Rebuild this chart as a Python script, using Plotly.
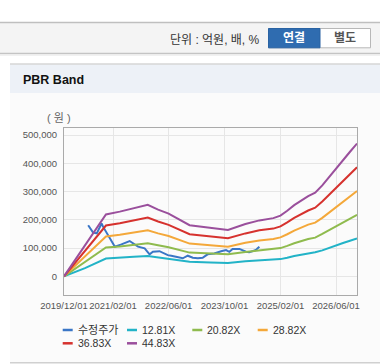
import plotly.graph_objects as go

# ---------------- data ----------------
band_dates = ["2019-12-01", "2020-06-01", "2020-12-01", "2021-04-01", "2021-08-01", "2021-12-01",
              "2022-03-01", "2022-06-01", "2022-12-01", "2023-06-01", "2023-11-01", "2024-04-01",
              "2024-08-01", "2024-12-01", "2025-02-01", "2025-04-01", "2025-06-01", "2025-10-01",
              "2025-12-01", "2026-02-01", "2026-04-01", "2026-06-01", "2026-08-01", "2026-10-01",
              "2026-12-01"]
band_1281 = [0, 29000, 63000, 65000, 69000, 72000, 67000, 63000, 52000, 49000, 47000, 53000, 57000,
             59000, 61000, 66000, 72000, 81000, 85000, 92000, 101000, 109000, 118000, 126000, 134000]
band_2082 = [0, 50000, 102000, 106000, 112000, 117000, 110000, 103000, 84000, 81000, 78000, 86000,
             92000, 96000, 100000, 108000, 117000, 132000, 137000, 150000, 163000, 177000, 191000,
             205000, 218000]
band_2882 = [0, 69000, 141000, 147000, 156000, 163000, 152000, 143000, 116000, 111000, 105000, 119000,
             127000, 132000, 138000, 149000, 162000, 183000, 190000, 207000, 226000, 246000, 265000,
             284000, 302000]
band_3683 = [0, 89000, 180000, 188000, 199000, 208000, 194000, 182000, 149000, 141000, 135000, 152000,
             163000, 169000, 177000, 191000, 207000, 233000, 243000, 265000, 289000, 314000, 338000,
             362000, 386000]
band_4483 = [0, 109000, 219000, 229000, 242000, 253000, 236000, 222000, 181000, 172000, 164000, 185000,
             198000, 206000, 215000, 232000, 252000, 284000, 296000, 322000, 352000, 382000, 412000,
             441000, 470000]

price_dates = ["2020-06-29", "2020-08-11", "2020-09-12", "2020-10-24", "2020-11-07", "2020-12-20",
               "2021-01-19", "2021-02-17", "2021-04-15", "2021-06-26", "2021-09-07", "2021-11-04",
               "2021-12-17", "2022-01-15", "2022-03-13", "2022-04-26", "2022-05-25", "2022-06-24",
               "2022-08-20", "2022-10-03", "2022-11-15", "2022-12-29", "2023-02-11", "2023-03-25",
               "2023-05-07", "2023-07-04", "2023-09-02", "2023-10-15", "2023-11-13", "2023-12-11",
               "2024-02-09", "2024-04-06", "2024-05-04", "2024-06-03", "2024-07-02", "2024-07-15",
               "2024-08-01"]
price = [181000, 155000, 152000, 187000, 175000, 146000, 122000, 105000, 113000, 125000, 105000,
         99000, 78000, 87000, 89000, 80000, 75000, 73000, 69000, 64000, 73000, 66000, 64000, 66000,
         78000, 81000, 89000, 93000, 87000, 97000, 97000, 87000, 85000, 89000, 93000, 99000, 105000]

series_names = ["수정주가", "12.81X", "20.82X", "28.82X", "36.83X", "44.83X"]
tick_dates = ["2019-12-01", "2021-02-01", "2022-06-01", "2023-10-01", "2025-02-01", "2026-06-01"]
tick_labels = ["2019/12/01", "2021/02/01", "2022/06/01", "2023/10/01", "2025/02/01", "2026/06/01"]
y_ticks = [0, 100000, 200000, 300000, 400000, 500000]

colors = ["#3a76c6", "#22b3c7", "#8fbb4e", "#f4a83a", "#d6322e", "#9a4f9c"]

# ---------------- layout helpers ----------------
W, H = 380, 364
L, R, T, B = 64, 357, 128, 295
PW, PH = R - L, B - T


def px(x):
    return (x - L) / PW


def py(y):
    return (B - y) / PH


KFONT = "Liberation Sans, Arial, Noto Sans CJK KR"

fig = go.Figure()

fig.add_trace(go.Scatter(x=price_dates, y=price, name=series_names[0], mode="lines",
                         line=dict(color=colors[0], width=2), showlegend=False))
for name, vals, c in zip(series_names[1:], [band_1281, band_2082, band_2882, band_3683, band_4483],
                         colors[1:]):
    fig.add_trace(go.Scatter(x=band_dates, y=vals, name=name, mode="lines",
                             line=dict(color=c, width=2), showlegend=False))

shapes = []
# toolbar
shapes.append(dict(type="rect", xref="paper", yref="paper", x0=px(0), x1=px(380), y0=py(53), y1=py(22.5),
                   fillcolor="#f4f4f4", line=dict(width=0), layer="below"))
shapes.append(dict(type="line", xref="paper", yref="paper", x0=px(0), x1=px(380), y0=py(22.5), y1=py(22.5),
                   line=dict(color="#bfbfbf", width=1.5), layer="below"))
shapes.append(dict(type="line", xref="paper", yref="paper", x0=px(0), x1=px(380), y0=py(53.5), y1=py(53.5),
                   line=dict(color="#c4c4c4", width=1.5), layer="below"))
shapes.append(dict(type="line", xref="paper", yref="paper", x0=px(0), x1=px(380), y0=py(55), y1=py(55),
                   line=dict(color="#ececec", width=1.5), layer="below"))
# buttons
shapes.append(dict(type="rect", xref="paper", yref="paper", x0=px(268.5), x1=px(370.5), y0=py(47.8), y1=py(28.5),
                   fillcolor="#ffffff", line=dict(color="#b8b8b8", width=1), layer="below"))
shapes.append(dict(type="rect", xref="paper", yref="paper", x0=px(268.5), x1=px(320), y0=py(47.8), y1=py(28.5),
                   fillcolor="#2f6cb0", line=dict(color="#2a63a3", width=1), layer="below"))
# panel
shapes.append(dict(type="rect", xref="paper", yref="paper", x0=px(10), x1=px(381), y0=py(362), y1=py(64),
                   fillcolor="#fbfbfb", line=dict(width=0), layer="below"))
shapes.append(dict(type="rect", xref="paper", yref="paper", x0=px(10), x1=px(381), y0=py(93), y1=py(64),
                   fillcolor="#edf1f7", line=dict(width=0), layer="below"))
shapes.append(dict(type="line", xref="paper", yref="paper", x0=px(10), x1=px(381), y0=py(64), y1=py(64),
                   line=dict(color="#d6d6d6", width=1.5), layer="below"))
shapes.append(dict(type="line", xref="paper", yref="paper", x0=px(10), x1=px(381), y0=py(362.8), y1=py(362.8),
                   line=dict(color="#d0d0d0", width=1.5), layer="below"))

annotations = [
    dict(text="단위 : 억원, 배, %", x=px(262), y=py(39.5), xanchor="right", yanchor="middle",
         font=dict(size=12, color="#333333", family=KFONT)),
    dict(text="<b>연결</b>", x=px(294), y=py(38.5), xanchor="center", yanchor="middle",
         font=dict(size=12, color="#ffffff", family=KFONT)),
    dict(text="<b>별도</b>", x=px(345), y=py(38.5), xanchor="center", yanchor="middle",
         font=dict(size=12, color="#555555", family=KFONT)),
    dict(text="<b>PBR Band</b>", x=px(21), y=py(80), xanchor="left", yanchor="middle",
         font=dict(size=12.5, color="#111111", family=KFONT)),
    dict(text="( 원 )", x=px(59), y=py(117.5), xanchor="center", yanchor="middle",
         font=dict(size=11, color="#666666", family=KFONT)),
]

# manual legend
leg_pos = [(62.7, 330), (127, 330), (192.3, 330), (257.7, 330), (62.7, 343.3), (127, 343.3)]
for (lx, ly), name, c in zip(leg_pos, series_names, colors):
    shapes.append(dict(type="line", xref="paper", yref="paper", x0=px(lx), x1=px(lx + 10),
                       y0=py(ly), y1=py(ly), line=dict(color=c, width=2.5)))
    annotations.append(dict(text=name, x=px(lx + 13), y=py(ly), xanchor="left", yanchor="middle",
                            font=dict(size=11 if name == "수정주가" else 10.5, color="#333333",
                                      family=KFONT)))

for a in annotations:
    a.update(xref="paper", yref="paper", showarrow=False)

fig.update_layout(
    width=W, height=H,
    margin=dict(l=L, r=W - R, t=T, b=H - B, pad=0, autoexpand=False),
    paper_bgcolor="#ffffff",
    plot_bgcolor="rgba(0,0,0,0)",
    shapes=shapes,
    annotations=annotations,
    showlegend=False,
    font=dict(family=KFONT),
)
fig.update_xaxes(type="date", range=["2019-12-01", "2026-12-01"], tickvals=tick_dates, ticktext=tick_labels,
                 tickangle=0, automargin=False,
                 showgrid=True, gridcolor="#e6e6e6", gridwidth=1,
                 showline=True, linecolor="#aaaaaa", linewidth=1, mirror=True,
                 tickfont=dict(size=9.5, color="#555555", family="Liberation Sans, Arial"),
                 ticks="", ticklabelstandoff=2, zeroline=False)
fig.update_yaxes(range=[-66000, 525000], tickvals=y_ticks, tickformat=",", automargin=False,
                 showgrid=True, gridcolor="#e6e6e6", gridwidth=1,
                 showline=True, linecolor="#aaaaaa", linewidth=1, mirror=True,
                 tickfont=dict(size=9.5, color="#555555", family="Liberation Sans, Arial"),
                 ticklabelstandoff=4, zeroline=False)

fig.write_html("out.html", config={"displayModeBar": False},
               post_script="document.body.style.margin='0';document.body.style.overflow='hidden';")
